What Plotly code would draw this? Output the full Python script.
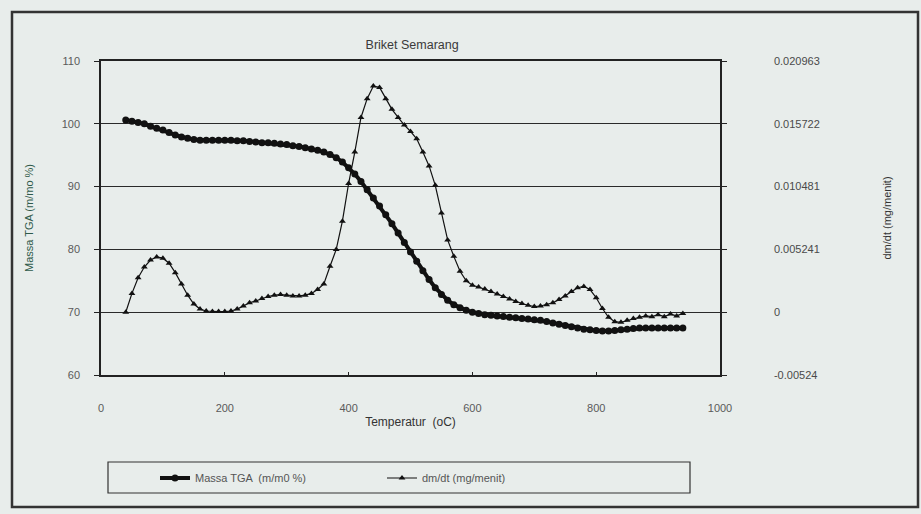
import plotly.graph_objects as go

# ---- data ----
temperature = list(range(40, 950, 10))  # degC

massa_tga = [
    100.6, 100.4, 100.2, 100.0, 99.6, 99.3, 99.0, 98.6, 98.2, 97.9,
    97.7, 97.5, 97.4, 97.4, 97.4, 97.4, 97.4, 97.4, 97.3, 97.3,
    97.2, 97.1, 97.0, 97.0, 96.9, 96.8, 96.7, 96.5, 96.4, 96.2,
    96.0, 95.8, 95.5, 95.1, 94.6, 93.9, 93.0, 92.0, 90.8, 89.5,
    88.2, 86.9, 85.5, 84.1, 82.6, 81.1, 79.6, 78.1, 76.6, 75.2,
    73.9, 72.8, 71.9, 71.2, 70.7, 70.3, 70.0, 69.8, 69.6, 69.5,
    69.4, 69.3, 69.2, 69.1, 69.0, 68.9, 68.8, 68.7, 68.5, 68.3,
    68.1, 67.9, 67.7, 67.5, 67.3, 67.2, 67.1, 67.0, 67.0, 67.1,
    67.2, 67.3, 67.4, 67.5, 67.5, 67.5, 67.5, 67.5, 67.5, 67.5,
    67.5,
]

dmdt = [
    0.0, 0.00157, 0.00288, 0.00377, 0.00435, 0.00461, 0.00451, 0.00409, 0.00330, 0.00236,
    0.00142, 0.00068, 0.00026, 0.00010, 0.00005, 0.00005, 0.00005, 0.00010, 0.00026, 0.00052,
    0.00079, 0.00094, 0.00115, 0.00131, 0.00142, 0.00147, 0.00142, 0.00136, 0.00136, 0.00142,
    0.00157, 0.00189, 0.00236, 0.00383, 0.00524, 0.00760, 0.01074, 0.01336, 0.01625, 0.01782,
    0.01887, 0.01876, 0.01782, 0.01693, 0.01625, 0.01562, 0.01509, 0.01447, 0.01336, 0.01221,
    0.01059, 0.00828, 0.00603, 0.00466, 0.00341, 0.00262, 0.00225, 0.00210, 0.00194, 0.00173,
    0.00152, 0.00131, 0.00110, 0.00089, 0.00073, 0.00058, 0.00047, 0.00052, 0.00063, 0.00079,
    0.00105, 0.00136, 0.00173, 0.00204, 0.00215, 0.00189, 0.00121, 0.00031, -0.00042, -0.00079,
    -0.00084, -0.00068, -0.00052, -0.00042, -0.00031, -0.00037, -0.00021, -0.00037, -0.00016, -0.00031,
    -0.00010,
]

x_ticks = [0, 200, 400, 600, 800, 1000]
left_ticks = [60, 70, 80, 90, 100, 110]
right_tickvals = [-0.00524, 0.0, 0.005241, 0.010481, 0.015722, 0.020963]
right_ticktext = ["-0.00524", "0", "0.005241", "0.010481", "0.015722", "0.020963"]

BG = "#e8edeb"
TXT = "#4a4a4a"
FONT = "Liberation Sans, Arial, sans-serif"

fig = go.Figure()
fig.add_trace(go.Scatter(
    x=temperature, y=massa_tga, name="Massa TGA  (m/m0 %)",
    mode="lines+markers",
    line=dict(color="#111111", width=4),
    marker=dict(symbol="circle", size=7, color="#111111"),
))
fig.add_trace(go.Scatter(
    x=temperature, y=dmdt, name="dm/dt (mg/menit)", yaxis="y2",
    mode="lines+markers",
    line=dict(color="#111111", width=1.2),
    marker=dict(symbol="triangle-up", size=6, color="#111111"),
))

fig.update_layout(
    width=921, height=514,
    margin=dict(l=101, r=201, t=61, b=139),
    paper_bgcolor=BG, plot_bgcolor=BG,
    font=dict(family=FONT, size=11, color=TXT),
    title=dict(text="Briket Semarang", x=0.4475, xanchor="center",
               y=1 - 45 / 514, yanchor="middle",
               font=dict(size=12.5, color="#3a3a3a", family=FONT)),
    xaxis=dict(
        range=[0, 1000], tickvals=x_ticks,
        showline=True, linecolor="#222222", linewidth=1.5, mirror=True,
        showgrid=False, zeroline=False,
        ticks="inside", ticklen=3, tickcolor="#222222",
        ticklabelstandoff=22,
        tickfont=dict(size=11, color="#5a5a5a"),
        title=dict(text="Temperatur  (oC)", font=dict(size=12, color="#333333"), standoff=5),
    ),
    yaxis=dict(
        range=[60, 110], tickvals=left_ticks,
        showline=True, linecolor="#222222", linewidth=1.5,
        showgrid=True, gridcolor="#2a2a2a", gridwidth=1.3,
        zeroline=False,
        ticks="outside", ticklen=5, tickcolor="#222222",
        ticklabelstandoff=12,
        tickfont=dict(size=11, color="#5a5a5a"),
        title=dict(text="Massa TGA (m/mo %)", font=dict(size=11, color="#2f5a4a"), standoff=26),
    ),
    yaxis2=dict(
        range=[-0.00524, 0.020963], tickvals=right_tickvals, ticktext=right_ticktext,
        overlaying="y", side="right",
        showline=True, linecolor="#222222", linewidth=1.5,
        showgrid=False, zeroline=False,
        ticks="outside", ticklen=5, tickcolor="#222222",
        ticklabelstandoff=45,
        tickfont=dict(size=11, color="#4a4a4a"),
        title=dict(text="dm/dt (mg/menit)", font=dict(size=11, color="#333333"), standoff=64),
    ),
    showlegend=True,
    legend=dict(
        orientation="h", x=(155 - 101) / 619, xanchor="left", y=(375 - 478) / 314, yanchor="middle",
        bgcolor="rgba(0,0,0,0)", borderwidth=0,
        font=dict(size=11, color="#555555"),
        itemwidth=30, entrywidth=182, entrywidthmode="pixels",
    ),
)

# legend box and outer chart border
fig.add_shape(type="rect", xref="paper", yref="paper",
              x0=(108 - 101) / 619, x1=(690 - 101) / 619,
              y0=(375 - 493) / 314, y1=(375 - 462) / 314,
              line=dict(color="#333333", width=1.2))
fig.add_shape(type="rect", xref="paper", yref="paper",
              x0=(12 - 101) / 619, x1=(918 - 101) / 619,
              y0=(375 - 507) / 314, y1=(375 - 12) / 314,
              line=dict(color="#333333", width=2.5))

fig.write_html("out.html")
